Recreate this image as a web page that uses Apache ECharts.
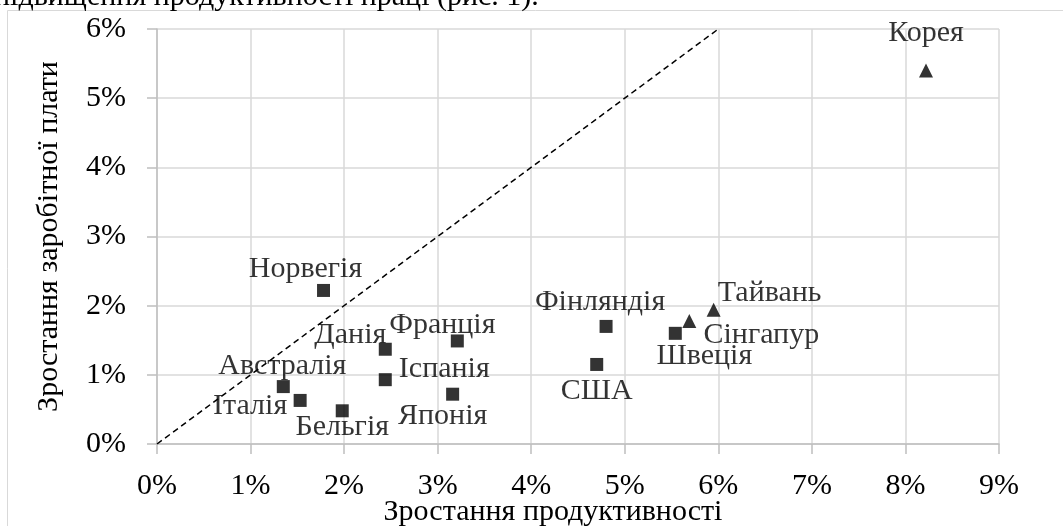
<!DOCTYPE html>
<html>
<head>
<meta charset="utf-8">
<script src="https://cdn.jsdelivr.net/npm/echarts@6/dist/echarts.min.js"></script>
<style>
  html, body { margin: 0; padding: 0; background: #fff; }
  #chart { width: 1063px; height: 526px; }
</style>
</head>
<body>
<div id="chart"></div>
<script>
// країни, позначені квадратами
var squareNames = ['Норвегія', 'Данія', 'Франція', 'Іспанія', 'Австралія', 'Італія', 'Бельгія', 'Японія', 'Фінляндія', 'США', 'Швеція'];
var squareX = [1.78, 2.44, 3.21, 2.44, 1.35, 1.53, 1.98, 3.16, 4.80, 4.70, 5.54];
var squareY = [2.22, 1.37, 1.49, 0.93, 0.83, 0.63, 0.48, 0.72, 1.70, 1.15, 1.60];

// країни, позначені трикутниками
var triangleNames = ['Сінгапур', 'Тайвань', 'Корея'];
var triangleX = [5.69, 5.95, 8.22];
var triangleY = [1.78, 1.94, 5.40];

// пунктирна лінія y = x
var diagX = [0, 6];
var diagY = [0, 6];

var xTicks = [0, 1, 2, 3, 4, 5, 6, 7, 8, 9];
var yTicks = [0, 1, 2, 3, 4, 5, 6];

// зсув підписів відносно маркера
var labelOffset = {
  'Норвегія': [-18, -21],
  'Данія': [-35, -14],
  'Франція': [-15, -16],
  'Іспанія': [59, -11],
  'Австралія': [-1, -20],
  'Італія': [-50, 6],
  'Бельгія': [0, 16],
  'Японія': [-10, 22],
  'Фінляндія': [-6, -24],
  'США': [0, 27],
  'Швеція': [29, 23],
  'Сінгапур': [72, 14],
  'Тайвань': [56, -17],
  'Корея': [0, -37]
};

var FONT = '"Liberation Serif", "DejaVu Serif", serif';
var FS = 30;

function makePoints(names, xs, ys) {
  return names.map(function (n, i) {
    return {
      name: n,
      value: [xs[i], ys[i]],
      label: { offset: labelOffset[n] }
    };
  });
}

var chart = echarts.init(document.getElementById('chart'));
chart.setOption({
  animation: false,
  textStyle: { fontFamily: FONT },
  grid: { left: 157, right: 64, top: 29, bottom: 82, containLabel: false, outerBoundsMode: 'none' },
  graphic: [
    {
      type: 'rect',
      shape: { x: 7.5, y: 10.5, width: 1200, height: 700 },
      style: { fill: 'none', stroke: '#d9d9d9', lineWidth: 1 },
      z: -1
    },
    {
      type: 'text',
      x: -6,
      y: 12,
      style: {
        text: 'підвищення продуктивності праці (рис. 1).',
        font: FS + 'px ' + FONT,
        fill: '#000',
        verticalAlign: 'bottom'
      }
    }
  ],
  xAxis: {
    type: 'value',
    min: xTicks[0],
    max: xTicks[xTicks.length - 1],
    interval: 1,
    name: 'Зростання продуктивності',
    nameLocation: 'middle',
    nameGap: 53,
    nameMoveOverlap: false,
    nameTextStyle: { fontSize: FS, color: '#000', fontFamily: FONT, padding: [0, 50, 0, 0] },
    axisLine: { show: true, lineStyle: { color: '#bfbfbf', width: 1.5 } },
    axisTick: { show: true, length: 10, lineStyle: { color: '#bfbfbf', width: 1.5 } },
    axisLabel: { fontSize: FS, color: '#000', fontFamily: FONT, margin: 27, formatter: '{value}%' },
    splitLine: { show: true, lineStyle: { color: '#d9d9d9', width: 1.5 } }
  },
  yAxis: {
    type: 'value',
    min: yTicks[0],
    max: yTicks[yTicks.length - 1],
    interval: 1,
    name: 'Зростання заробітної плати',
    nameLocation: 'middle',
    nameGap: 93,
    nameMoveOverlap: false,
    nameTextStyle: { fontSize: FS, color: '#000', fontFamily: FONT },
    axisLine: { show: true, lineStyle: { color: '#bfbfbf', width: 1.5 } },
    axisTick: { show: true, length: 10, lineStyle: { color: '#bfbfbf', width: 1.5 } },
    axisLabel: { fontSize: FS, color: '#000', fontFamily: FONT, margin: 31, formatter: '{value}%' },
    splitLine: { show: true, lineStyle: { color: '#d9d9d9', width: 1.5 } }
  },
  series: [
    {
      type: 'line',
      data: diagX.map(function (x, i) { return [x, diagY[i]]; }),
      symbol: 'none',
      lineStyle: { color: '#000', width: 1.5, type: [6, 4] },
      z: 1
    },
    {
      type: 'scatter',
      symbol: 'rect',
      symbolSize: 13,
      itemStyle: { color: '#000' },
      label: {
        show: true,
        position: 'inside',
        formatter: '{b}',
        color: '#000',
        fontSize: FS,
        fontFamily: FONT
      },
      data: makePoints(squareNames, squareX, squareY),
      z: 3
    },
    {
      type: 'scatter',
      symbol: 'triangle',
      symbolSize: 14,
      itemStyle: { color: '#000' },
      label: {
        show: true,
        position: 'inside',
        formatter: '{b}',
        color: '#000',
        fontSize: FS,
        fontFamily: FONT
      },
      data: makePoints(triangleNames, triangleX, triangleY),
      z: 3
    }
  ]
});
</script>
</body>
</html>
